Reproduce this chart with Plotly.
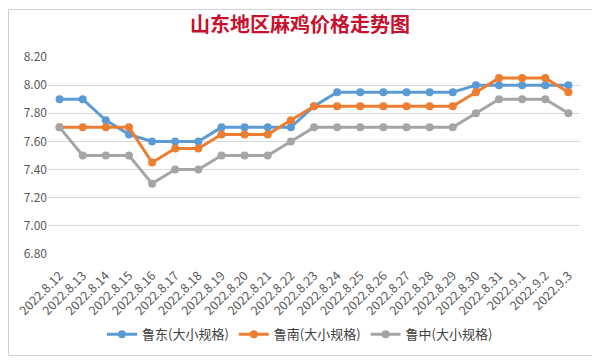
import plotly.graph_objects as go

dates = ["2022.8.12", "2022.8.13", "2022.8.14", "2022.8.15", "2022.8.16", "2022.8.17",
         "2022.8.18", "2022.8.19", "2022.8.20", "2022.8.21", "2022.8.22", "2022.8.23",
         "2022.8.24", "2022.8.25", "2022.8.26", "2022.8.27", "2022.8.28", "2022.8.29",
         "2022.8.30", "2022.8.31", "2022.9.1", "2022.9.2", "2022.9.3"]
ludong = [7.90, 7.90, 7.75, 7.65, 7.60, 7.60, 7.60, 7.70, 7.70, 7.70, 7.70, 7.85,
          7.95, 7.95, 7.95, 7.95, 7.95, 7.95, 8.00, 8.00, 8.00, 8.00, 8.00]
lunan = [7.70, 7.70, 7.70, 7.70, 7.45, 7.55, 7.55, 7.65, 7.65, 7.65, 7.75, 7.85,
         7.85, 7.85, 7.85, 7.85, 7.85, 7.85, 7.95, 8.05, 8.05, 8.05, 7.95]
luzhong = [7.70, 7.50, 7.50, 7.50, 7.30, 7.40, 7.40, 7.50, 7.50, 7.50, 7.60, 7.70,
           7.70, 7.70, 7.70, 7.70, 7.70, 7.70, 7.80, 7.90, 7.90, 7.90, 7.80]
names = ["鲁东(大小规格)", "鲁南(大小规格)", "鲁中(大小规格)"]
colors = ["#5b9bd5", "#ed7d31", "#a5a5a5"]
yticks = [6.80, 7.00, 7.20, 7.40, 7.60, 7.80, 8.00, 8.20]

# page has an 8px body margin, so the figure is drawn 8px smaller and shifted
W, H = 592, 354
L, T, R, B = 40, 49, 20, 104
PH = H - T - B
PW = W - L - R

font = "Noto Sans CJK SC"
fig = go.Figure()
for vals, name, c in zip([ludong, lunan, luzhong], names, colors):
    fig.add_trace(go.Scatter(x=dates, y=vals, name=name, mode="lines+markers",
                             line=dict(color=c, width=3),
                             marker=dict(color=c, size=8)))

fig.update_layout(
    width=W, height=H,
    margin=dict(l=L, r=R, t=T, b=B),
    paper_bgcolor="white", plot_bgcolor="white",
    font=dict(family=font, color="#595959", size=11),
    title=dict(text="<b>山东地区麻鸡价格走势图</b>", x=(292 - L) / PW, xanchor="center",
               xref="paper", y=1 - 17 / H, yanchor="middle",
               font=dict(family=font, size=20, color="#c8102e")),
    xaxis=dict(type="category", range=[-0.5, 22.5], tickangle=-45,
               showgrid=False, showline=False, ticks="", automargin=False,
               ticklabelstandoff=11,
               tickfont=dict(size=12.5, color="#595959")),
    yaxis=dict(range=[6.8, 8.2], tickvals=yticks, automargin=False,
               ticktext=[f"{v:.2f}" for v in yticks],
               showgrid=True, gridcolor="#d9d9d9", gridwidth=1,
               zeroline=False, showline=False, ticks="",
               tickfont=dict(size=12, color="#595959")),
    legend=dict(orientation="h", x=(292 - L) / PW, xanchor="center",
                y=-82 / PH, yanchor="middle",
                font=dict(size=13, color="#404040"), itemwidth=30, tracegroupgap=0),
    showlegend=True,
)
fig.add_shape(type="rect", xref="paper", yref="paper",
              x0=-(L - 0.5) / PW, x1=1 + (R - 0.5) / PW,
              y0=-(B - 0.5) / PH, y1=1 + (T - 0.5) / PH,
              line=dict(color="#d0d0d0", width=1))
fig.write_html("out.html")
